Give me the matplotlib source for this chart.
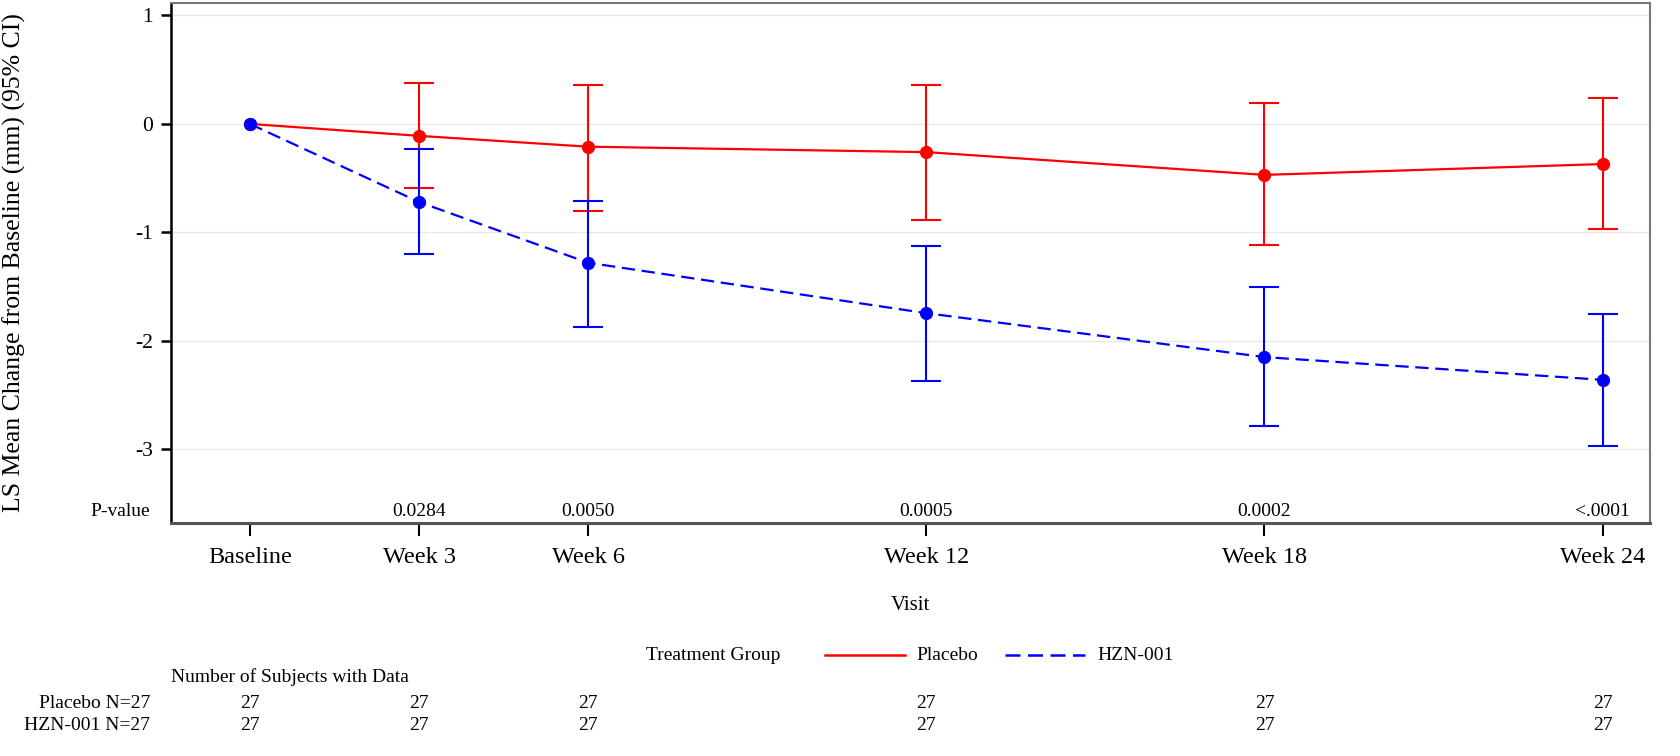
import matplotlib
matplotlib.use("Agg")
import matplotlib.pyplot as plt
from matplotlib.lines import Line2D
from matplotlib.transforms import blended_transform_factory
import numpy as np

plt.rcParams['font.family'] = ['Liberation Serif', 'DejaVu Serif']

# data
weeks = [0, 3, 6, 12, 18, 24]
visit_labels = ['Baseline', 'Week 3', 'Week 6', 'Week 12', 'Week 18', 'Week 24']

placebo_mean = [0.0, -0.11, -0.21, -0.26, -0.47, -0.37]
placebo_lo = [0.0, -0.59, -0.80, -0.89, -1.12, -0.97]
placebo_hi = [0.0, 0.38, 0.36, 0.36, 0.19, 0.235]

hzn_mean = [0.0, -0.72, -1.28, -1.745, -2.15, -2.36]
hzn_lo = [0.0, -1.20, -1.87, -2.37, -2.79, -2.97]
hzn_hi = [0.0, -0.235, -0.71, -1.13, -1.50, -1.755]

p_values = ['', '0.0284', '0.0050', '0.0005', '0.0002', '<.0001']
n_placebo = [27, 27, 27, 27, 27, 27]
n_hzn = [27, 27, 27, 27, 27, 27]

RED = '#FF0000'
BLUE = '#0000FF'
W, H = 1680, 756

fig = plt.figure(figsize=(16.8, 7.56), dpi=100)
ax = fig.add_axes([171 / W, 1 - 523 / H, (1650 - 171) / W, 520 / H])
ax.set_xlim(-1.4, 24.84)
ax.set_ylim(-3.68, 1.115)

# grid
for yv in [-3, -2, -1, 0, 1]:
    ax.axhline(yv, color='#e8e8e8', lw=1.0, zorder=0)


def draw_group(mean, lo, hi, color, ls):
    x = np.array(weeks)
    m = np.array(mean)
    ax.plot(x, m, color=color, lw=1.6, ls=ls, zorder=3,
            dashes=(6, 3) if ls == '--' else (None, None))
    err = np.vstack([m[1:] - np.array(lo[1:]), np.array(hi[1:]) - m[1:]])
    ax.errorbar(x[1:], m[1:], yerr=err, fmt='none', ecolor=color,
                elinewidth=1.5, capsize=11, capthick=1.5, zorder=2)
    ax.plot(x, m, 'o', color=color, ms=8.5, zorder=4)


draw_group(placebo_mean, placebo_lo, placebo_hi, RED, '-')
draw_group(hzn_mean, hzn_lo, hzn_hi, BLUE, '--')

# axes styling
for side in ['top', 'right']:
    ax.spines[side].set_color('#777777')
    ax.spines[side].set_linewidth(1.5)
ax.spines['left'].set_color('black')
ax.spines['left'].set_linewidth(1.8)
ax.spines['bottom'].set_color('#555555')
ax.spines['bottom'].set_linewidth(2.2)

ax.set_yticks([-3, -2, -1, 0, 1])
ax.set_yticklabels(['-3', '-2', '-1', '0', '1'])
ax.set_xticks(weeks)
ax.set_xticklabels(visit_labels)
ax.tick_params(axis='y', length=7, width=1.8, labelsize=15.5, pad=6)
ax.tick_params(axis='x', length=9, width=1.5, labelsize=17.5, pad=8)

# p-values inside the bottom of the plot area
for w, p in zip(weeks, p_values):
    if p:
        ax.text(w, -3.575, p, ha='center', va='center', fontsize=14)
fig.text(150 / W, 1 - 512 / H, 'P-value', ha='right', va='center', fontsize=14)

# axis titles
fig.text(14 / W, 1 - 263 / H, 'LS Mean Change from Baseline (mm) (95% CI)',
         rotation=90, ha='center', va='center', fontsize=18.5)
fig.text((171 + 1650) / 2 / W, 1 - 605 / H, 'Visit', ha='center', va='center',
         fontsize=15)

# legend row
ly = 1 - 655 / H
fig.text(646 / W, ly, 'Treatment Group', ha='left', va='center', fontsize=14)
fig.add_artist(Line2D([825 / W, 905 / W], [ly, ly], color=RED, lw=1.8))
fig.text(916 / W, ly, 'Placebo', ha='left', va='center', fontsize=14)
fig.add_artist(Line2D([1005 / W, 1085 / W], [ly, ly], color=BLUE, lw=1.8,
                      dashes=(6, 3)))
fig.text(1097 / W, ly, 'HZN-001', ha='left', va='center', fontsize=14)

# subjects table
trans = blended_transform_factory(ax.transData, fig.transFigure)
fig.text(171 / W, 1 - 677 / H, 'Number of Subjects with Data', ha='left',
         va='center', fontsize=14)
fig.text(150 / W, 1 - 703 / H, 'Placebo N=27', ha='right', va='center', fontsize=14)
fig.text(150 / W, 1 - 726 / H, 'HZN-001 N=27', ha='right', va='center', fontsize=14)
for w, a, b in zip(weeks, n_placebo, n_hzn):
    fig.text(w, 1 - 703 / H, str(a), transform=trans, ha='center', va='center',
             fontsize=14)
    fig.text(w, 1 - 726 / H, str(b), transform=trans, ha='center', va='center',
             fontsize=14)

fig.savefig('out.png', dpi=100, facecolor='white')
